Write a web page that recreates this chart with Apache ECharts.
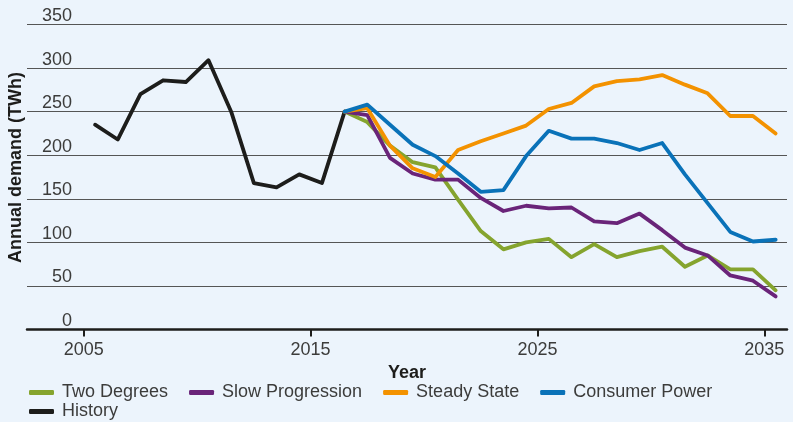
<!DOCTYPE html>
<html>
<head>
<meta charset="utf-8">
<script src="https://cdn.jsdelivr.net/npm/echarts@6/dist/echarts.min.js"></script>
<style>
html,body{margin:0;padding:0;background:#ecf4fc;}
#chart{width:793px;height:422px;}
</style>
</head>
<body>
<div id="chart"></div>
<script>
// Data (annual demand, TWh). Values are plotted at mid-year.
const historyYears = [2005, 2006, 2007, 2008, 2009, 2010, 2011, 2012, 2013, 2014, 2015, 2016];
const history = [235, 218, 270, 286, 284, 309, 250, 168, 163, 178, 168, 250];

const projYears = [2016, 2017, 2018, 2019, 2020, 2021, 2022, 2023, 2024, 2025, 2026, 2027, 2028, 2029, 2030, 2031, 2032, 2033, 2034, 2035];
const twoDegrees = [250, 238, 211, 192, 186, 149, 113, 92, 100, 104, 83, 98, 83, 90, 95, 72, 85, 69, 69, 45];
const slowProgression = [250, 246, 197, 179, 172, 172, 151, 136, 142, 139, 140, 124, 122, 133, 114, 94, 85, 62, 56, 38];
const steadyState = [250, 254, 211, 185, 175, 206, 216, 225, 234, 253, 260, 279, 285, 287, 292, 281, 271, 245, 245, 225];
const consumerPower = [250, 258, 235, 212, 199, 179, 158, 160, 199, 228, 219, 219, 214, 206, 214, 178, 145, 112, 101, 103];

const xTickLabels = [2005, 2015, 2025, 2035];
const yTicks = [0, 50, 100, 150, 200, 250, 300, 350];

const MID_YEAR = 0.5;
const pts = (years, vals) => years.map((y, i) => [y + MID_YEAR, vals[i]]);

const FONT = '"Liberation Sans", Arial, Helvetica, sans-serif';
const TXT = '#3c3c3b';

const mk = (name, color, data) => ({
  name, type: 'line', data, showSymbol: false, symbol: 'none',
  lineStyle: { color, width: 3.8, cap: 'round', join: 'round' },
  itemStyle: { color },
  emphasis: { disabled: true },
  animation: false
});

const chart = echarts.init(document.getElementById('chart'), null, { renderer: 'canvas' });
chart.setOption({
  backgroundColor: '#ecf4fc',
  textStyle: { fontFamily: FONT },
  grid: { left: 27, right: 6, top: 24.5, bottom: 92.5, containLabel: false },
  xAxis: {
    type: 'value', min: 2002.5, max: 2036,
    name: 'Year', nameLocation: 'middle', nameGap: 33.5,
    nameTextStyle: { fontFamily: FONT, fontSize: 18, fontWeight: 'bold', color: '#1d1d1b' },
    axisLine: { show: true, onZero: false, lineStyle: { color: '#1d1d1b', width: 2.5 } },
    axisTick: { show: true, customValues: xTickLabels, length: 7, lineStyle: { color: '#1d1d1b', width: 2 } },
    axisLabel: { customValues: xTickLabels, margin: 11.5, fontFamily: FONT, fontSize: 18, color: TXT,
      formatter: v => String(Math.round(v)) },
    splitLine: { show: false }
  },
  yAxis: {
    type: 'value', min: 0, max: 350, interval: 50,
    axisLine: { show: false },
    axisTick: { show: false },
    axisLabel: { inside: true, margin: 45, align: 'right', verticalAlign: 'bottom',
      fontFamily: FONT, fontSize: 18, color: TXT, lineHeight: 17, padding: 0,
      formatter: v => yTicks.includes(v) ? String(v) : '' },
    splitLine: { show: true, lineStyle: { color: '#555', width: 1 } }
  },
  legend: [
    {
      data: ['Two Degrees', 'Slow Progression', 'Steady State', 'Consumer Power'],
      left: 29, top: 383.5, padding: 0, itemGap: 21, itemWidth: 25, itemHeight: 5,
      icon: 'roundRect', selectedMode: false,
      textStyle: { fontFamily: FONT, fontSize: 18, color: TXT, padding: [0, 0, 0, 3] }
    },
    {
      data: ['History'],
      left: 29, top: 402.5, padding: 0, itemGap: 21, itemWidth: 25, itemHeight: 5,
      icon: 'roundRect', selectedMode: false,
      textStyle: { fontFamily: FONT, fontSize: 18, color: TXT, padding: [0, 0, 0, 3] }
    }
  ],
  graphic: [{
    type: 'text', x: 16, y: 167.5, rotation: Math.PI / 2, silent: true,
    style: { text: 'Annual demand (TWh)', font: 'bold 18px ' + FONT, fill: '#1d1d1b',
      align: 'center', verticalAlign: 'middle' }
  }],
  series: [
    mk('History', '#1d1d1b', pts(historyYears, history)),
    mk('Two Degrees', '#85a42e', pts(projYears, twoDegrees)),
    mk('Slow Progression', '#6a2479', pts(projYears, slowProgression)),
    mk('Steady State', '#f39200', pts(projYears, steadyState)),
    mk('Consumer Power', '#0a72b8', pts(projYears, consumerPower))
  ]
});
</script>
</body>
</html>
